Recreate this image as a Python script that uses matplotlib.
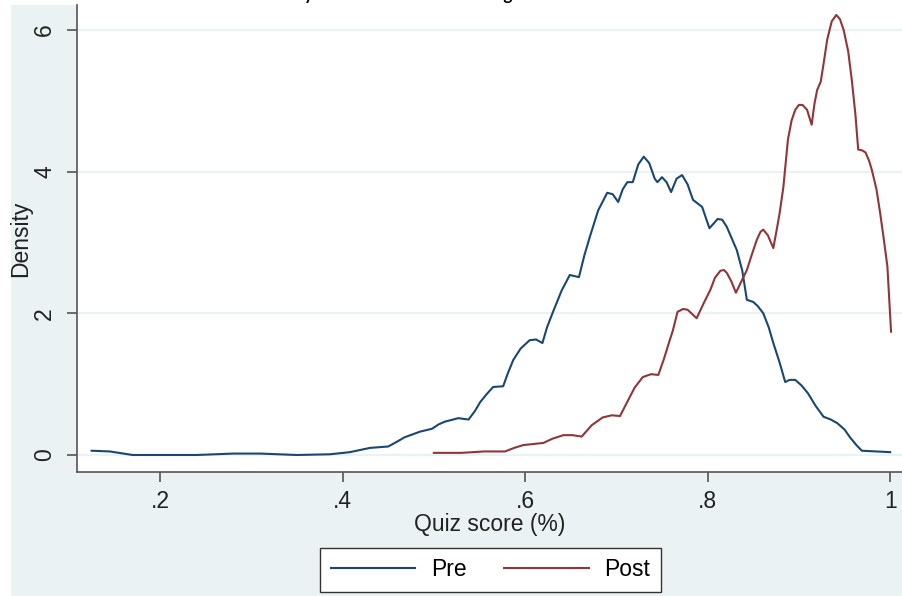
import matplotlib
matplotlib.use("Agg")
import matplotlib.pyplot as plt
from matplotlib.patches import Rectangle

# ---- data ----
pre_x = [0.125, 0.145, 0.170, 0.200, 0.240, 0.280, 0.310, 0.350, 0.386, 0.408, 0.430,
         0.450, 0.460, 0.468, 0.485, 0.498, 0.505, 0.512, 0.527, 0.538, 0.545, 0.551,
         0.558, 0.565, 0.576, 0.581, 0.587, 0.595, 0.605, 0.612, 0.619, 0.624, 0.630,
         0.640, 0.649, 0.659, 0.665, 0.671, 0.680, 0.690, 0.696, 0.702, 0.707, 0.712,
         0.718, 0.724, 0.730, 0.736, 0.742, 0.745, 0.750, 0.755, 0.760, 0.766, 0.772,
         0.778, 0.784, 0.794, 0.802, 0.811, 0.816, 0.821, 0.832, 0.838, 0.843, 0.850,
         0.855, 0.861, 0.867, 0.872, 0.879, 0.885, 0.890, 0.896, 0.903, 0.910, 0.918,
         0.927, 0.935, 0.942, 0.950, 0.956, 0.963, 0.969, 0.985, 1.000]
pre_y = [0.06, 0.05, 0.00, 0.00, 0.00, 0.02, 0.02, 0.00, 0.01, 0.04, 0.10,
         0.12, 0.19, 0.25, 0.33, 0.37, 0.43, 0.47, 0.52, 0.50, 0.62, 0.75,
         0.86, 0.96, 0.97, 1.15, 1.34, 1.50, 1.62, 1.63, 1.58, 1.80, 2.00,
         2.32, 2.54, 2.51, 2.82, 3.08, 3.45, 3.70, 3.68, 3.57, 3.75, 3.85,
         3.85, 4.10, 4.21, 4.12, 3.90, 3.85, 3.92, 3.85, 3.71, 3.90, 3.95,
         3.82, 3.60, 3.50, 3.20, 3.33, 3.32, 3.22, 2.89, 2.60, 2.19, 2.16,
         2.10, 2.00, 1.80, 1.58, 1.30, 1.03, 1.06, 1.06, 0.98, 0.87, 0.70,
         0.54, 0.50, 0.45, 0.36, 0.25, 0.14, 0.06, 0.05, 0.04]

post_x = [0.500, 0.530, 0.555, 0.578, 0.588, 0.598, 0.620, 0.630, 0.642, 0.652, 0.662,
          0.673, 0.685, 0.695, 0.704, 0.712, 0.720, 0.729, 0.738, 0.746, 0.752, 0.758,
          0.762, 0.767, 0.773, 0.778, 0.788, 0.796, 0.803, 0.808, 0.814, 0.818, 0.821,
          0.826, 0.831, 0.837, 0.843, 0.849, 0.854, 0.858, 0.861, 0.866, 0.872, 0.876,
          0.879, 0.883, 0.888, 0.892, 0.896, 0.900, 0.904, 0.909, 0.914, 0.917, 0.920,
          0.924, 0.928, 0.931, 0.936, 0.941, 0.945, 0.949, 0.954, 0.958, 0.962, 0.965,
          0.969, 0.973, 0.977, 0.980, 0.985, 0.989, 0.993, 0.997, 1.001]
post_y = [0.03, 0.03, 0.05, 0.05, 0.10, 0.14, 0.17, 0.23, 0.28, 0.28, 0.26,
          0.42, 0.53, 0.56, 0.55, 0.75, 0.95, 1.10, 1.14, 1.13, 1.35, 1.60,
          1.76, 2.02, 2.06, 2.05, 1.93, 2.15, 2.33, 2.50, 2.60, 2.61, 2.57,
          2.45, 2.29, 2.45, 2.61, 2.85, 3.04, 3.15, 3.18, 3.10, 2.92, 3.20,
          3.42, 3.78, 4.45, 4.72, 4.87, 4.94, 4.94, 4.87, 4.66, 4.95, 5.15,
          5.27, 5.60, 5.86, 6.12, 6.21, 6.15, 6.00, 5.70, 5.29, 4.80, 4.31,
          4.30, 4.27, 4.15, 4.02, 3.75, 3.42, 3.05, 2.66, 1.74]

series_labels = ["Pre", "Post"]
x_ticks = [0.2, 0.4, 0.6, 0.8, 1.0]
x_tick_labels = [".2", ".4", ".6", ".8", "1"]
y_ticks = [0, 2, 4, 6]
y_tick_labels = ["0", "2", "4", "6"]
title_text = "Density Before and After Training"

W, H = 902, 596
fig = plt.figure(figsize=(W / 100, H / 100), dpi=100)
fig.patch.set_facecolor("white")

# Stata-like graph region
bg = Rectangle((11 / W, 0), (W - 11) / W, (H - 5) / H,
               transform=fig.transFigure, facecolor="#EAF2F3",
               edgecolor="none", zorder=-10)
fig.patches.append(bg)

ax = fig.add_axes([77 / W, 1 - 472 / H, (W - 77) / W, (472 - 5) / H])
ax.set_zorder(1)
ax.set_facecolor("white")

navy = "#1A476F"
maroon = "#90353B"
l1, = ax.plot(pre_x, pre_y, color=navy, lw=1.5, solid_joinstyle="round")
l2, = ax.plot(post_x, post_y, color=maroon, lw=1.5, solid_joinstyle="round")

ax.set_xlim(0.109, 1.013)
ax.set_ylim(-0.24, 6.35)

for yv in y_ticks:
    ax.axhline(yv, color="#EAF2F3", lw=1.6, zorder=0)

ax.set_xticks(x_ticks)
ax.set_xticklabels(x_tick_labels)
ax.set_yticks(y_ticks)
ax.set_yticklabels(y_tick_labels, rotation=90, va="center")

fs = 16.5
for s in ["top", "right"]:
    ax.spines[s].set_visible(False)
for s in ["left", "bottom"]:
    ax.spines[s].set_color("#555555")
    ax.spines[s].set_linewidth(1.2)
ax.tick_params(axis="both", direction="out", length=7, width=1.2, color="#555555",
               labelsize=fs, labelcolor="#222222")
ax.tick_params(axis="x", pad=6)
ax.tick_params(axis="y", pad=8)

ax.set_xlabel("Quiz score (%)", fontsize=fs, color="#222222", labelpad=0)
ax.set_ylabel("Density", fontsize=fs, color="#222222", labelpad=1)

for t in ax.get_xticklabels() + ax.get_yticklabels():
    t.set_family(["Liberation Sans", "DejaVu Sans"])
ax.xaxis.label.set_family(["Liberation Sans", "DejaVu Sans"])
ax.yaxis.label.set_family(["Liberation Sans", "DejaVu Sans"])

leg = fig.legend([l1, l2], series_labels, loc="center",
                 bbox_to_anchor=(490.5 / W, 1 - 570 / H), ncol=2,
                 frameon=True, fancybox=False, handlelength=3.7,
                 handletextpad=0.7, columnspacing=1.6, borderpad=0.45,
                 prop={"family": ["Liberation Sans", "DejaVu Sans"], "size": fs})
leg.get_frame().set_edgecolor("#333333")
leg.get_frame().set_linewidth(1.0)
leg.get_frame().set_facecolor("white")
leg.get_frame().set_alpha(1.0)
for h in leg.get_lines():
    h.set_linewidth(1.5)

# document heading, mostly cut off at the top edge
fig.text(254 / W, 1 + 0.5 / H, title_text, fontsize=12.3, fontweight="bold",
         family=["Lato", "DejaVu Sans"], va="baseline", ha="left", color="black")

fig.savefig("out.png", dpi=100)
